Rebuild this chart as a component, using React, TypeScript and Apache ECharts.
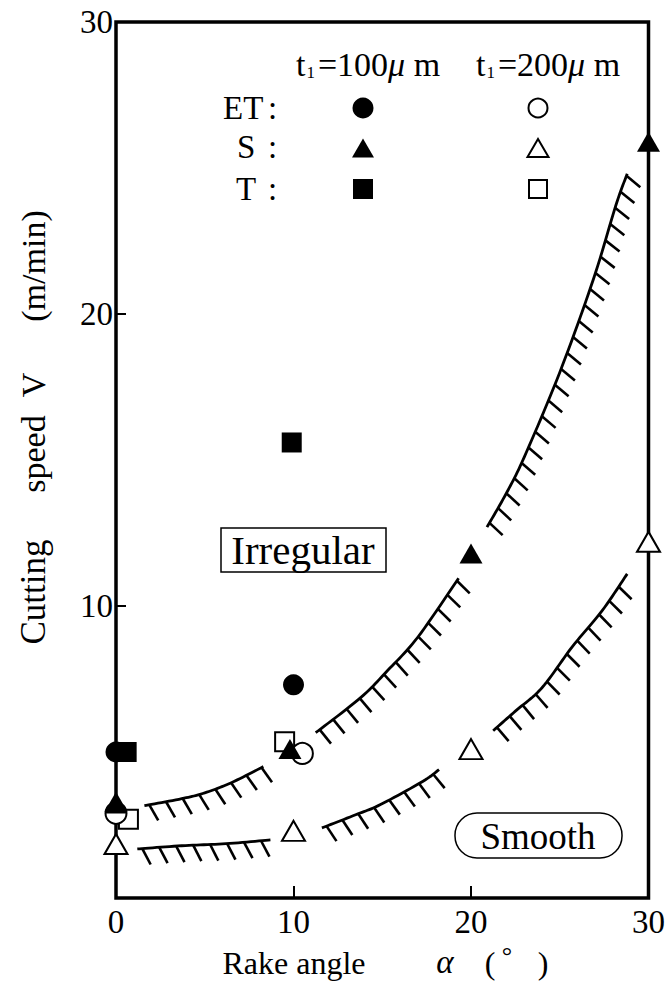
import React, { useEffect, useRef } from 'react';
import * as echarts from 'echarts';

// ---- data ----
const xTicks = [0, 10, 20, 30];
const yTicks = [10, 20, 30];

const etFilled = [[0, 5.0], [10, 7.3]];            // ET, t1=100 um
const etHalf = [[0, 2.9]];                          // ET, both (half filled)
const etOpen = [[0, 2.9], [10.5, 4.95]];           // ET, t1=200 um
const sFilled = [[0, 3.3], [9.8, 5.1], [20, 11.8], [30, 25.9]];
const sOpen = [[0, 1.85], [10, 2.3], [20, 5.1], [30, 12.2]];
const tFilled = [[0.6, 5.0], [9.9, 15.6]];
const tOpen = [[0.7, 2.7], [9.5, 5.35]];

const upperBoundary = [
  [[1.6, 3.16], [3.7, 3.4], [5.0, 3.6], [6.5, 3.95], [8.3, 4.5]],
  [[11.25, 5.66], [13.8, 6.87], [15.3, 7.79], [17.0, 8.93], [19.3, 10.95]],
  [[20.9, 12.7], [22.0, 13.87], [23.0, 15.1], [25.0, 18.0], [26.9, 21.2], [28.15, 23.7], [28.8, 24.8]],
];
const lowerBoundary = [
  [[1.2, 1.68], [3.7, 1.79], [6.2, 1.86], [8.7, 1.99]],
  [[11.6, 2.4], [13.5, 2.85], [14.9, 3.2], [17.3, 4.0], [18.2, 4.4]],
  [[21.25, 5.73], [22.5, 6.4], [24.0, 7.2], [25.7, 8.6], [27.4, 9.85], [28.8, 11.1]],
];
const boundaries = [...upperBoundary, ...lowerBoundary];

const FONT = 'Liberation Serif';

function catmull(pts: number[][], steps: number) {
  const out: number[][] = [];
  for (let i = 0; i < pts.length - 1; i++) {
    const p0 = pts[Math.max(0, i - 1)];
    const p1 = pts[i];
    const p2 = pts[i + 1];
    const p3 = pts[Math.min(pts.length - 1, i + 2)];
    for (let s = 0; s < steps; s++) {
      const t = s / steps;
      const t2 = t * t, t3 = t2 * t;
      const f = (a: number, b: number, c: number, d: number) =>
        0.5 * (2 * b + (-a + c) * t + (2 * a - 5 * b + 4 * c - d) * t2 + (-a + 3 * b - 3 * c + d) * t3);
      out.push([f(p0[0], p1[0], p2[0], p3[0]), f(p0[1], p1[1], p2[1], p3[1])]);
    }
  }
  out.push(pts[pts.length - 1]);
  return out;
}

function renderBoundary(params: any, api: any) {
  const seg = boundaries[params.dataIndex];
  const px = seg.map((p) => api.coord(p));
  const pts = catmull(px, 12);
  const children: any[] = [
    { type: 'polyline', shape: { points: pts }, style: { stroke: '#000', lineWidth: 2.8, fill: 'none' } },
  ];
  const spacing = 17;
  const L = 18;
  const fx = Math.cos((50 * Math.PI) / 180);
  const fy = Math.sin((50 * Math.PI) / 180);
  let next = 5;
  let acc = 0;
  for (let i = 0; i < pts.length - 1; i++) {
    const a = pts[i], b = pts[i + 1];
    const dx = b[0] - a[0], dy = b[1] - a[1];
    const len = Math.hypot(dx, dy);
    if (len === 0) continue;
    const tx = dx / len, ty = dy / len;
    while (next <= acc + len) {
      const u = (next - acc) / len;
      const x = a[0] + dx * u, y = a[1] + dy * u;
      let nx = -ty, ny = tx;
      if (ny < 0) { nx = -nx; ny = -ny; }
      let vx = 0.35 * nx + 0.65 * fx, vy = 0.35 * ny + 0.65 * fy;
      const vl = Math.hypot(vx, vy);
      vx /= vl; vy /= vl;
      children.push({
        type: 'line',
        shape: { x1: x, y1: y, x2: x + vx * L, y2: y + vy * L },
        style: { stroke: '#000', lineWidth: 2.6 },
      });
      next += spacing;
    }
    acc += len;
  }
  return { type: 'group', children };
}

const openStyle = { color: '#fff', borderColor: '#000', borderWidth: 2, opacity: 1 };
const filledStyle = { color: '#000', opacity: 1 };

function sc(name: string, data: number[][], symbol: string, size: any, style: any, z: number) {
  return {
    name, type: 'scatter', data, symbol, symbolSize: size, itemStyle: style, z,
    emphasis: { disabled: true },
  };
}

function txt(text: string, x: number, y: number, size: number, extra: any = {}) {
  return {
    type: 'text', x, y, ...extra,
    style: { text, font: `${extra.italic ? 'italic ' : ''}${size}px "${FONT}"`, fill: '#000', align: extra.align || 'center', verticalAlign: 'middle' },
  };
}

function rowTexts(label: string, lx: number, y: number) {
  return [
    txt(label, lx, y, 33, { align: 'left' }),
    txt(':', 268, y, 33, { align: 'left' }),
  ];
}

function header(x: number, num: string) {
  return {
    type: 'text', x, y: 64,
    style: {
      text: `{a|t}{b|1}{a|=${num}}{c|μ}{a| m}`,
      verticalAlign: 'middle',
      rich: {
        a: { fontSize: 34, fontFamily: FONT, fill: '#000', color: '#000' },
        b: { fontSize: 17, fontFamily: FONT, fill: '#000', color: '#000', verticalAlign: 'bottom', padding: [0, 3, 0, 1] },
        c: { fontSize: 34, fontFamily: FONT, fontStyle: 'italic', fill: '#000', color: '#000' },
      },
    },
  };
}

function tri(cx: number, cy: number, w: number, h: number) {
  return [[cx - w / 2, cy + h / 2], [cx + w / 2, cy + h / 2], [cx, cy - h / 2]];
}

export default function App() {
  const ref = useRef<HTMLDivElement>(null);
  useEffect(() => {
    const chart = echarts.init(ref.current!, null, { renderer: 'svg' });
    const halfDisc = 'path://M0,10 A10,10 0 0 1 20,10 Z';
    chart.setOption({
      animation: false,
      backgroundColor: '#fff',
      grid: { left: 116, right: 17, top: 22, bottom: 85, show: true, borderColor: '#000', borderWidth: 3.5 },
      xAxis: {
        type: 'value', min: xTicks[0], max: xTicks[xTicks.length - 1], interval: 10,
        axisLine: { show: false },
        axisTick: { inside: true, length: 12, lineStyle: { color: '#000', width: 2 } },
        axisLabel: { color: '#000', fontFamily: FONT, fontSize: 33, margin: 7 },
        splitLine: { show: false },
      },
      yAxis: {
        type: 'value', min: 0, max: yTicks[yTicks.length - 1], interval: 10,
        axisLine: { show: false },
        axisTick: { inside: true, length: 10, lineStyle: { color: '#000', width: 2 } },
        axisLabel: { color: '#000', fontFamily: FONT, fontSize: 33, margin: 3, showMinLabel: false },
        splitLine: { show: false },
      },
      series: [
        {
          type: 'custom', renderItem: renderBoundary, clip: false, z: 1,
          data: boundaries.map((s) => [s[0][0], s[0][1]]),
          silent: true,
        },
        sc('T200', tOpen, 'rect', 19, openStyle, 2),
        sc('S200', sOpen, 'triangle', [23, 20], openStyle, 3),
        sc('ET200', etOpen, 'circle', 21, openStyle, 4),
        { ...sc('ETboth', etHalf, halfDisc, [21, 10.5], filledStyle, 5), symbolOffset: [0, -5] },
        sc('ET100', etFilled, 'circle', 21, filledStyle, 6),
        sc('T100', tFilled, 'rect', 20, filledStyle, 6),
        sc('S100', sFilled, 'triangle', [23, 20], filledStyle, 7),
      ],
      graphic: [
        header(296, '100'),
        header(476, '200'),
        ...rowTexts('ET', 223, 108),
        ...rowTexts('S', 237, 147),
        ...rowTexts('T', 236, 189),
        { type: 'circle', shape: { cx: 363, cy: 108, r: 10.5 }, style: { fill: '#000' } },
        { type: 'circle', shape: { cx: 538, cy: 108, r: 9.5 }, style: { fill: '#fff', stroke: '#000', lineWidth: 2 } },
        { type: 'polygon', shape: { points: tri(363, 148, 22, 19) }, style: { fill: '#000' } },
        { type: 'polygon', shape: { points: tri(538, 148, 21, 18) }, style: { fill: '#fff', stroke: '#000', lineWidth: 2 } },
        { type: 'rect', shape: { x: 353, y: 179, width: 20, height: 20 }, style: { fill: '#000' } },
        { type: 'rect', shape: { x: 529, y: 180, width: 18, height: 18 }, style: { fill: '#fff', stroke: '#000', lineWidth: 2 } },
        // region labels
        { type: 'rect', shape: { x: 221, y: 528, width: 165, height: 44 }, style: { fill: '#fff', stroke: '#000', lineWidth: 1.5 } },
        txt('Irregular', 303, 550, 41),
        { type: 'rect', shape: { x: 455, y: 813, width: 167, height: 45, r: 22 }, style: { fill: '#fff', stroke: '#000', lineWidth: 1.5 } },
        txt('Smooth', 538, 836, 37),
        // y axis title
        txt('Cutting', 33, 592, 35, { rotation: Math.PI / 2 }),
        txt('speed', 33, 454, 34, { rotation: Math.PI / 2 }),
        txt('V', 33, 385, 34, { rotation: Math.PI / 2 }),
        txt('(m/min)', 33, 266, 34, { rotation: Math.PI / 2 }),
        // x axis title
        txt('Rake angle', 294, 963, 32),
        txt('α', 445, 962, 33, { italic: true }),
        txt('(', 490, 963, 32),
        txt('°', 507, 955, 26),
        txt(')', 543, 963, 32),
      ],
    });
    return () => chart.dispose();
  }, []);
  return <div ref={ref} style={{ width: 668, height: 983, position: 'absolute', left: 0, top: 0 }} />;
}
